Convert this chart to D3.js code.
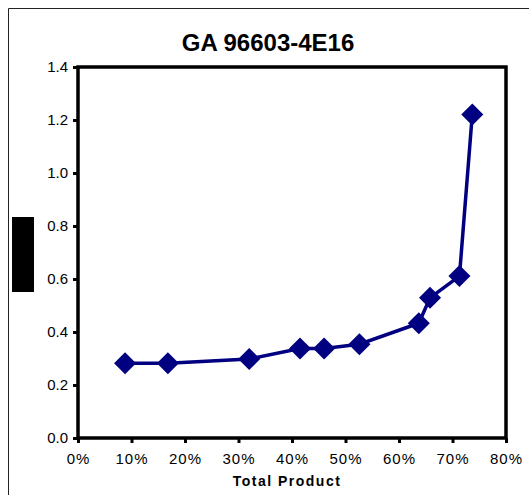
<!DOCTYPE html>
<html>
<head>
<meta charset="utf-8">
<script src="https://cdn.jsdelivr.net/npm/d3@7"></script>
<style>
  body { margin: 0; background: #fff; }
  text { font-family: Arial, "Liberation Sans", sans-serif; }
</style>
</head>
<body>
<div class="container"></div>
<script>
// Data
const chartTitle = "GA 96603-4E16";
const xLabel = "Total Product";
const totalProduct = [0.088, 0.168, 0.320, 0.415, 0.460, 0.526, 0.637, 0.658, 0.713, 0.737];
const yValues = [0.282, 0.282, 0.298, 0.338, 0.338, 0.354, 0.433, 0.529, 0.611, 1.221];
const xTicks = [0, 0.1, 0.2, 0.3, 0.4, 0.5, 0.6, 0.7, 0.8];
const yTicks = [0, 0.2, 0.4, 0.6, 0.8, 1.0, 1.2, 1.4];

const dataset = totalProduct.map((x, i) => ({x: x, y: yValues[i]}));

// Dimensions
const w = 529;
const h = 495;
const plot = {left: 78, right: 506, top: 67, bottom: 438};

// Scales
const xScale = d3.scaleLinear().domain([0, 0.8]).range([plot.left, plot.right]);
const yScale = d3.scaleLinear().domain([0, 1.4]).range([plot.bottom, plot.top]);

const svg = d3.select(".container")
  .append("svg")
  .attr("width", w)
  .attr("height", h);

// Outer chart frame (cut off at right and bottom)
svg.append("path")
  .attr("d", `M8.5,${h} L8.5,8.5 L${w},8.5`)
  .attr("fill", "none")
  .attr("stroke", "#222")
  .attr("stroke-width", 1);

// Title
svg.append("text")
  .attr("x", 268)
  .attr("y", 51)
  .style("font-size", "24px")
  .style("font-weight", "bold")
  .style("text-anchor", "middle")
  .text(chartTitle);

// Axes
const xAxis = d3.axisBottom(xScale).tickValues(xTicks).tickFormat(d3.format(".0%"))
  .tickSizeInner(5).tickSizeOuter(0).tickPadding(10);
const gx = svg.append("g")
  .attr("transform", `translate(0,${plot.bottom})`)
  .call(xAxis);

const yAxis = d3.axisLeft(yScale).tickValues(yTicks).tickFormat(d3.format(".1f"))
  .tickSizeInner(5).tickSizeOuter(0).tickPadding(5);
const gy = svg.append("g")
  .attr("transform", `translate(${plot.left},0)`)
  .call(yAxis);

[gx, gy].forEach(g => {
  g.select(".domain").remove();
  g.selectAll(".tick line").attr("stroke", "#000").attr("stroke-width", 3);
  g.selectAll(".tick text")
    .attr("fill", "#000")
    .style("font-size", "15px")
    .style("font-family", "Arial, 'Liberation Sans', sans-serif");
});
gx.selectAll(".tick text").style("letter-spacing", "1px");

// Plot area frame
svg.append("rect")
  .attr("x", plot.left)
  .attr("y", plot.top)
  .attr("width", plot.right - plot.left)
  .attr("height", plot.bottom - plot.top)
  .attr("fill", "none")
  .attr("stroke", "#000")
  .attr("stroke-width", 3.5);

// X-axis label
svg.append("text")
  .attr("x", 287)
  .attr("y", 486)
  .style("font-size", "14px")
  .style("font-weight", "bold")
  .style("letter-spacing", "1.5px")
  .style("text-anchor", "middle")
  .text(xLabel);

// Y-axis label is blacked out in the picture
svg.append("rect")
  .attr("x", 12)
  .attr("y", 217)
  .attr("width", 22)
  .attr("height", 75)
  .attr("fill", "#000");

// Line
const line = d3.line().x(d => xScale(d.x)).y(d => yScale(d.y));
svg.append("path")
  .datum(dataset)
  .attr("d", line)
  .attr("fill", "none")
  .attr("stroke", "#000080")
  .attr("stroke-width", 3.5);

// Diamond markers
svg.selectAll(".dot")
  .data(dataset)
  .enter()
  .append("path")
  .attr("class", "dot")
  .attr("d", d3.symbol(d3.symbolSquare, 243))
  .attr("transform", d => `translate(${xScale(d.x)},${yScale(d.y)}) rotate(45)`)
  .attr("fill", "#000080");
</script>
</body>
</html>
